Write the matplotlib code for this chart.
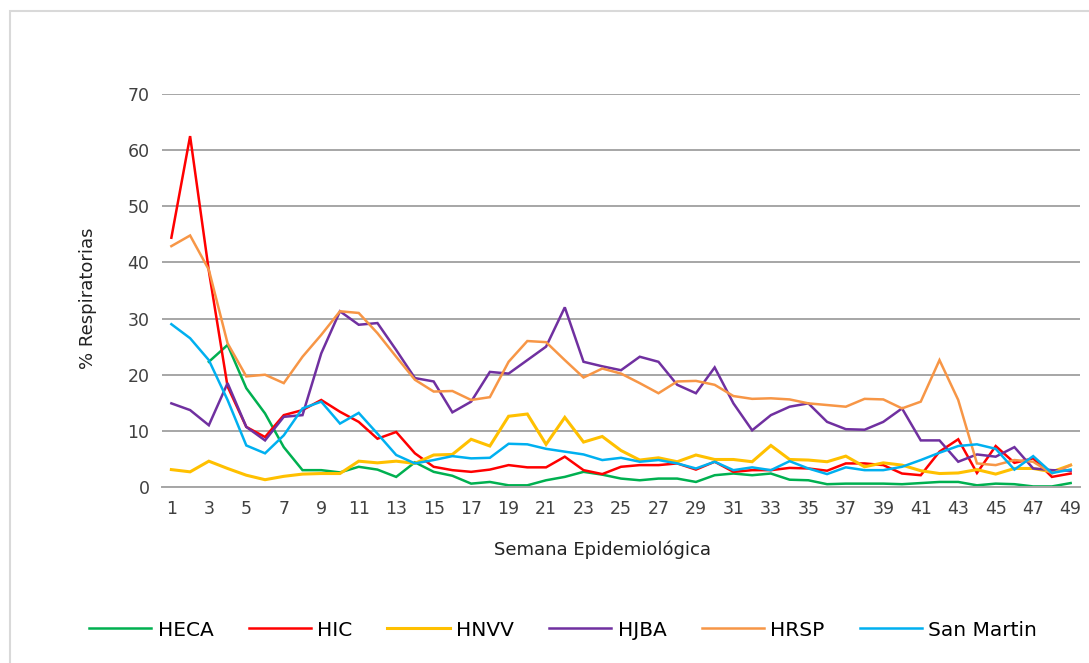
import numpy as np
import matplotlib
matplotlib.use('Agg')
import matplotlib.pyplot as plt
from matplotlib.patches import Rectangle

# === DATA ===
weeks = list(range(1, 50))

heca = [np.nan, np.nan, 22.3, 25.3, 17.6, 13.1, 7.1, 3.0, 3.0, 2.6,
        3.6, 3.1, 1.8, 4.4, 2.7, 2.0, 0.6, 0.9, 0.3, 0.3,
        1.2, 1.8, 2.7, 2.2, 1.5, 1.2, 1.5, 1.5, 0.9, 2.1,
        2.4, 2.1, 2.4, 1.3, 1.2, 0.5, 0.6, 0.6, 0.6, 0.5,
        0.7, 0.9, 0.9, 0.3, 0.6, 0.5, 0.1, 0.1, 0.7]

hic = [44.4, 62.5, 38.5, 17.9, 10.7, 8.9, 12.8, 13.7, 15.5, 13.4,
       11.6, 8.6, 9.8, 6.0, 3.6, 3.0, 2.7, 3.1, 3.9, 3.5,
       3.5, 5.4, 3.0, 2.3, 3.6, 3.9, 3.9, 4.2, 3.1, 4.5,
       2.7, 3.0, 3.0, 3.4, 3.3, 2.9, 4.2, 4.2, 3.9, 2.4,
       2.1, 6.3, 8.5, 2.5, 7.3, 4.3, 5.1, 1.8, 2.4]

hnvv = [3.1, 2.7, 4.6, 3.3, 2.1, 1.3, 1.9, 2.3, 2.4, 2.4,
        4.6, 4.3, 4.6, 4.2, 5.7, 5.8, 8.5, 7.3, 12.6, 13.0,
        7.6, 12.4, 8.0, 9.0, 6.5, 4.8, 5.2, 4.5, 5.7, 4.9,
        4.9, 4.5, 7.4, 4.9, 4.8, 4.5, 5.5, 3.6, 4.3, 3.9,
        2.9, 2.4, 2.5, 3.1, 2.3, 3.3, 3.3, 2.7, 3.9]

hjba = [14.9, 13.7, 11.0, 18.5, 10.7, 8.3, 12.5, 12.8, 23.8, 31.3,
        28.9, 29.2, 24.4, 19.4, 18.8, 13.3, 15.2, 20.5, 20.2, 22.6,
        25.0, 32.0, 22.3, 21.5, 20.8, 23.2, 22.3, 18.2, 16.7, 21.3,
        14.9, 10.1, 12.8, 14.3, 14.9, 11.6, 10.3, 10.2, 11.6, 14.0,
        8.3, 8.3, 4.5, 5.8, 5.4, 7.1, 3.3, 3.0, 2.9]

hrsp = [42.9, 44.8, 38.7, 25.6, 19.7, 20.0, 18.5, 23.2, 27.1, 31.3,
        31.0, 27.4, 23.2, 19.1, 17.0, 17.1, 15.5, 16.0, 22.3, 26.0,
        25.8, 22.6, 19.5, 21.1, 20.2, 18.5, 16.7, 18.8, 18.9, 18.2,
        16.2, 15.7, 15.8, 15.6, 14.9, 14.6, 14.3, 15.7, 15.6, 14.0,
        15.2, 22.6, 15.5, 4.2, 3.9, 4.8, 4.5, 2.4, 3.9]

san_martin = [29.0, 26.5, 22.6, 15.5, 7.4, 6.0, 9.2, 14.0, 15.2, 11.3,
              13.2, 9.5, 5.7, 4.2, 4.8, 5.5, 5.1, 5.2, 7.7, 7.6,
              6.8, 6.3, 5.8, 4.8, 5.2, 4.5, 4.8, 4.2, 3.3, 4.5,
              3.0, 3.5, 3.0, 4.6, 3.3, 2.3, 3.5, 3.0, 3.0, 3.6,
              4.8, 6.1, 7.3, 7.6, 6.8, 3.1, 5.5, 2.5, 3.1]

series_names = ["HECA", "HIC", "HNVV", "HJBA", "HRSP", "San Martin"]
series_vals = [heca, hic, hnvv, hjba, hrsp, san_martin]
colors = ["#00B050", "#FF0000", "#FFC000", "#7030A0", "#F79646", "#00B0F0"]
widths = [1.8, 1.8, 2.2, 1.8, 1.8, 1.8]

# === FIGURE ===
plt.rcParams['font.family'] = 'DejaVu Sans'
fig = plt.figure(figsize=(10.89, 6.63), dpi=100)
ax = fig.add_axes([162 / 1089, 1 - 487 / 663, 918 / 1089, 393 / 663])

for name, vals, c, lw in zip(series_names, series_vals, colors, widths):
    ax.plot(weeks, vals, color=c, lw=lw, label=name, solid_joinstyle='miter')

ax.set_xlim(0.5, 49.5)
ax.set_ylim(0, 70)
ax.set_yticks(range(0, 71, 10))
ax.set_xticks(weeks[::2])
ax.tick_params(axis='both', length=0, labelsize=12.5, colors='#404040')
ax.tick_params(axis='y', pad=9)
ax.tick_params(axis='x', pad=9)
ax.grid(axis='y', color='#a6a6a6', lw=1.4)
ax.set_axisbelow(True)
for s in ['top', 'right', 'left']:
    ax.spines[s].set_visible(False)
ax.spines['bottom'].set_color('#a6a6a6')
ax.spines['bottom'].set_linewidth(1.4)

fig.text(88 / 1089, 1 - 298 / 663, "% Respiratorias", rotation=90,
         ha='center', va='center', fontsize=13, color='#222222')
fig.text(603 / 1089, 1 - 550 / 663, "Semana Epidemiológica",
         ha='center', va='center', fontsize=13, color='#222222')

fig.legend(loc='center', bbox_to_anchor=(563 / 1089, 1 - 630 / 663),
           ncol=6, frameon=False, fontsize=14.5, handlelength=3.1,
           handletextpad=0.3, columnspacing=1.75)

# light border of the chart area
fig.patches.append(Rectangle((10 / 1089, -0.1), 1.2, 1 - 11 / 663 + 0.1,
                             transform=fig.transFigure, fill=False,
                             edgecolor='#d9d9d9', lw=1.5))

fig.savefig("out.png", dpi=100)
